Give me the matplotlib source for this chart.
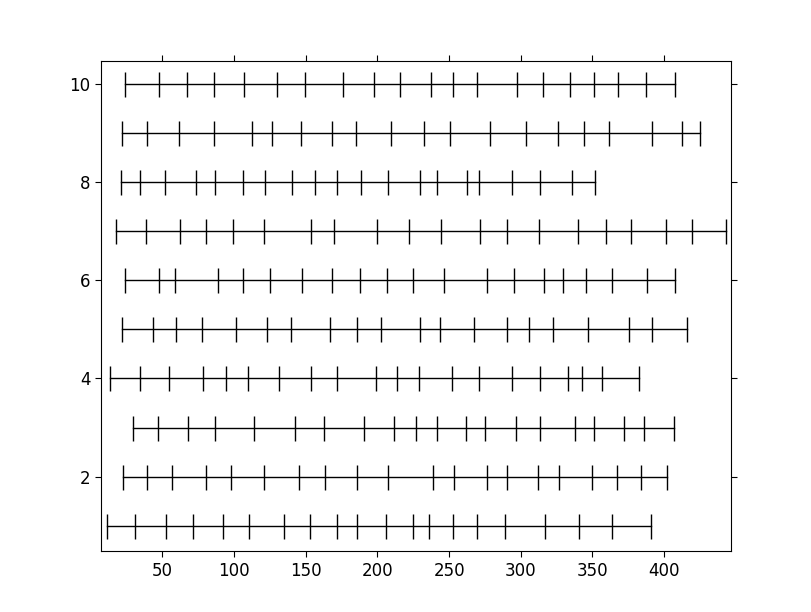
import matplotlib
matplotlib.use('Agg')
import matplotlib.pyplot as plt

# event positions for each row (row 1 at bottom, row 10 at top)
row1 = [11.4, 31.0, 52.6, 71.4, 92.3, 110.5, 134.9, 153.0, 171.9, 185.8,
        206.1, 224.9, 236.1, 252.8, 269.6, 289.1, 317.0, 340.7, 363.8, 391.0]
row2 = [22.6, 39.3, 56.8, 80.1, 97.9, 121.0, 145.0, 163.5, 185.8, 207.5,
        238.9, 253.5, 276.5, 290.5, 312.1, 326.8, 349.8, 367.2, 384.0, 402.1]
row3 = [29.6, 47.0, 67.9, 86.8, 114.0, 142.6, 162.8, 190.7, 211.7, 227.0,
        241.7, 261.9, 275.1, 296.8, 313.5, 337.9, 351.2, 372.1, 386.1, 407.0]
row4 = [13.5, 34.4, 54.7, 78.4, 94.4, 109.8, 131.4, 153.7, 171.9, 199.1,
        213.7, 229.1, 252.1, 271.0, 294.0, 313.5, 333.0, 342.8, 356.8, 382.6]
row5 = [21.9, 43.5, 59.8, 77.3, 101.4, 123.0, 139.8, 167.0, 185.8, 202.6,
        229.8, 243.3, 267.5, 290.1, 305.8, 322.6, 347.0, 375.6, 391.7, 416.1]
row6 = [24.0, 47.3, 58.9, 88.9, 105.9, 124.7, 147.5, 168.0, 187.9, 206.8,
        225.1, 246.5, 276.1, 295.0, 315.9, 329.1, 345.6, 363.8, 388.2, 407.7]
row7 = [17.7, 38.6, 62.3, 80.1, 98.9, 121.0, 153.7, 169.8, 199.8, 222.1,
        244.0, 271.7, 290.5, 312.8, 340.0, 359.6, 377.0, 401.0, 419.1, 443.3]
row8 = [20.8, 34.7, 51.9, 73.1, 87.0, 105.9, 121.7, 140.5, 156.5, 171.9,
        188.6, 207.5, 229.8, 241.7, 262.2, 271.0, 294.0, 313.5, 335.8, 351.9]
row9 = [21.9, 39.3, 61.7, 85.7, 112.2, 126.1, 146.8, 168.0, 184.7, 209.8,
        232.6, 250.7, 278.6, 303.7, 326.1, 344.2, 361.7, 391.7, 412.2, 425.1]
row10 = [24.0, 47.3, 66.8, 85.7, 107.0, 130.0, 149.6, 176.1, 197.3, 215.9,
         237.1, 252.4, 269.2, 297.1, 315.2, 334.0, 351.2, 367.5, 387.1, 407.3]

rows = [row1, row2, row3, row4, row5, row6, row7, row8, row9, row10]

fig = plt.figure(figsize=(8.12, 6.12), dpi=100)
ax = fig.add_axes([0.125, 0.1, 0.775, 0.8])

for i, row in enumerate(rows):
    ax.plot(row, [i + 1] * len(row), color='black', linewidth=1.0,
            marker='|', markersize=18, markeredgewidth=1.0)

ax.set_xlim(7.5, 446.5)
ax.set_ylim(0.49, 10.46)
ax.set_xticks([50, 100, 150, 200, 250, 300, 350, 400])
ax.set_yticks([2, 4, 6, 8, 10])
ax.tick_params(direction='out', length=4.5, top=True, right=True,
               labelsize=12)

plt.savefig('out.png', dpi=100)
